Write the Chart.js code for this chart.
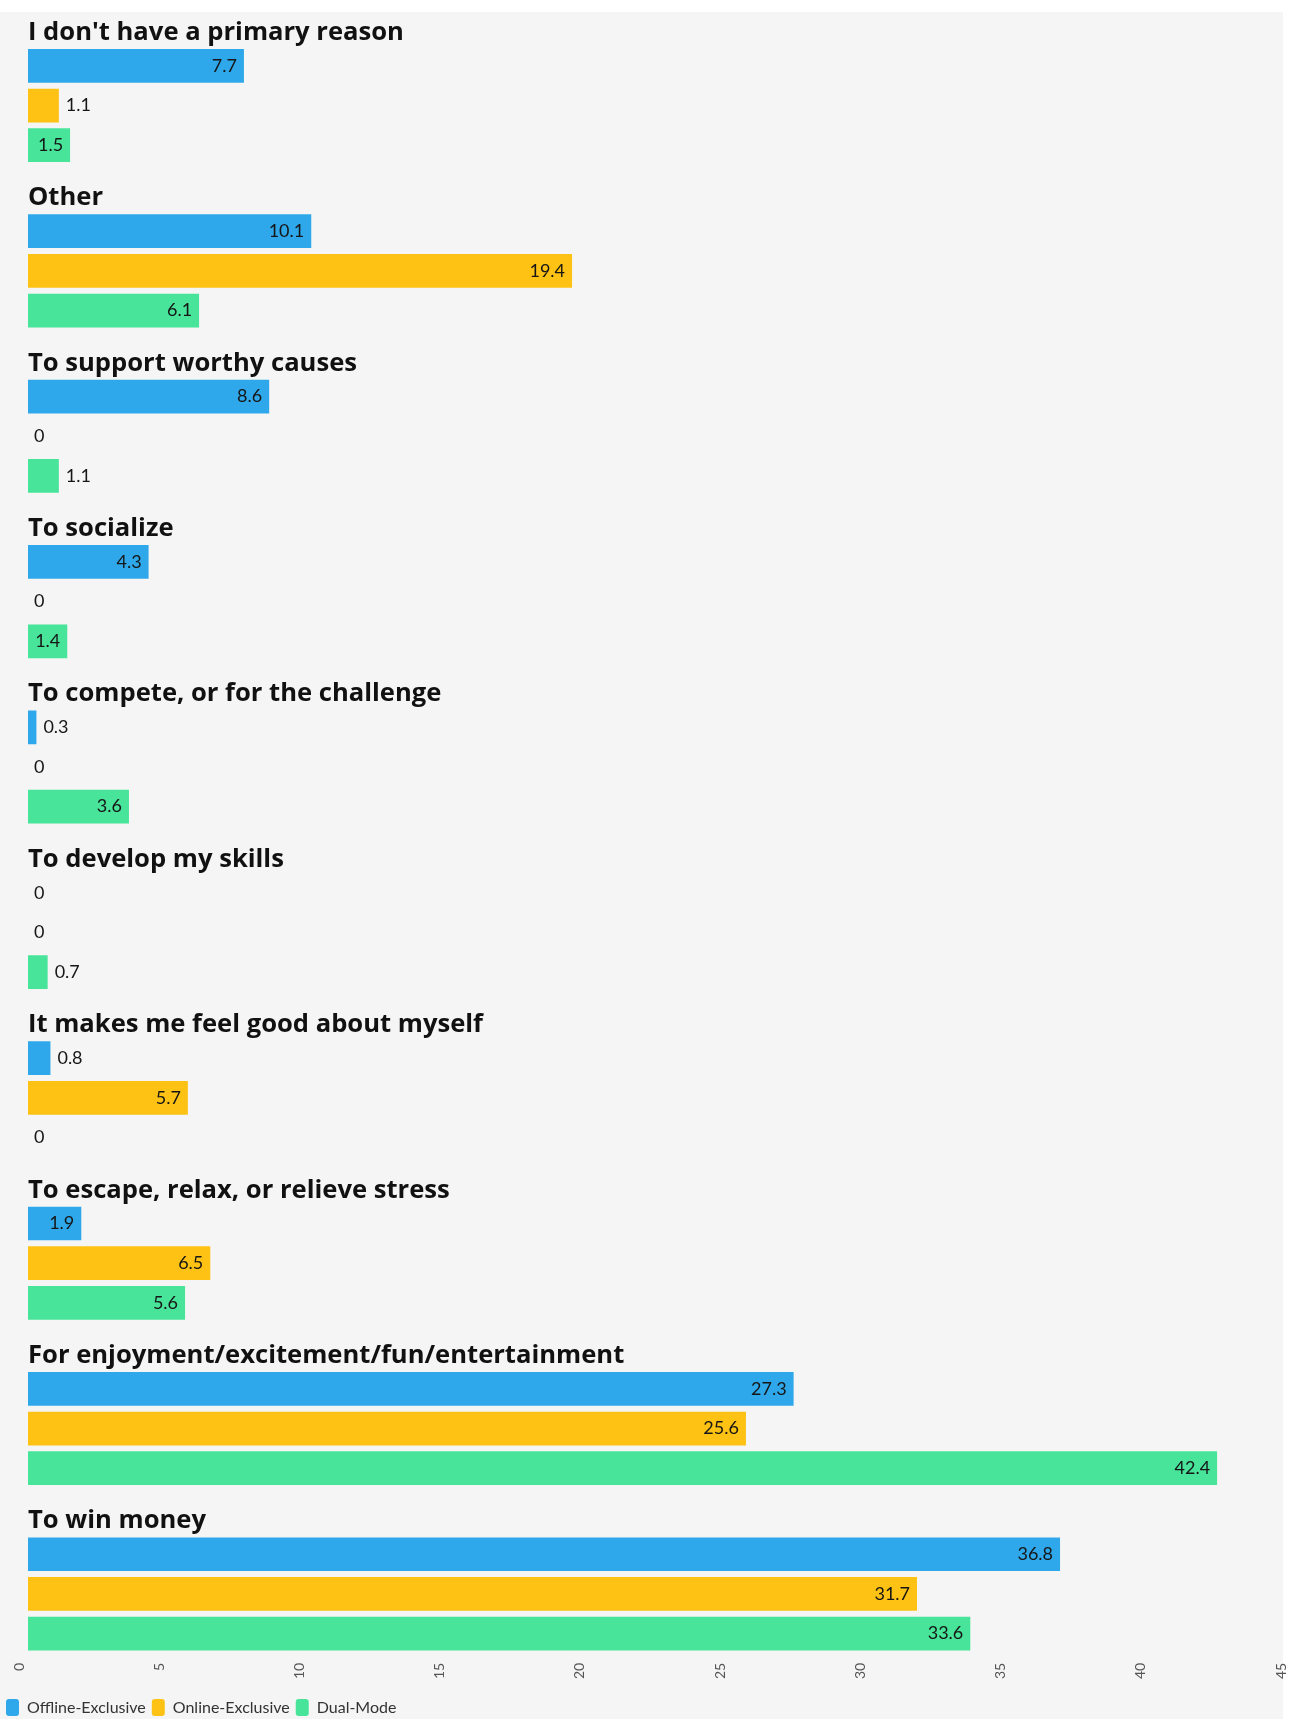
<!DOCTYPE html>
<html>
<head>
<meta charset="utf-8">
<script src="https://cdn.jsdelivr.net/npm/chart.js@4.4.1/dist/chart.umd.min.js"></script>
<style>
	html, body { margin: 0; padding: 0; background: #fff; overflow: hidden; }
	#panel { position: absolute; left: 0; top: 12px; width: 1283px; height: 1707px; background: #f5f5f5; }
	#wrap { position: absolute; left: 0; top: 0; width: 1294px; height: 1719px; }
</style>
</head>
<body>
<div id="panel"></div>
<div id="wrap"><canvas id="reasons-chart"></canvas></div>
<script>
; (function() {

	const categories = [
		"I don't have a primary reason",
		'Other',
		'To support worthy causes',
		'To socialize',
		'To compete, or for the challenge',
		'To develop my skills',
		'It makes me feel good about myself',
		'To escape, relax, or relieve stress',
		'For enjoyment/excitement/fun/entertainment',
		'To win money',
	]
	const offlineExclusive = [7.7, 10.1, 8.6, 4.3, 0.3, 0, 0.8, 1.9, 27.3, 36.8]
	const onlineExclusive = [1.1, 19.4, 0, 0, 0, 0, 5.7, 6.5, 25.6, 31.7]
	const dualMode = [1.5, 6.1, 1.1, 1.4, 3.6, 0.7, 0, 5.6, 42.4, 33.6]
	// empty slot above each group, leaves room for the category title
	const titleSlot = categories.map(() => null)

	const xMin = 0
	const xMax = 45
	const xStep = 5

	const font = 'Lato, "Open Sans", sans-serif'
	const titleFont = '"Open Sans", sans-serif'

	// value labels: inside the bar end when there is room, else just after it
	const valueLabels = {
		id: 'valueLabels',
		afterDatasetsDraw(chart) {
			const ctx = chart.ctx
			ctx.save()
			ctx.font = '18px ' + font
			ctx.fillStyle = '#161616'
			ctx.textBaseline = 'middle'
			chart.data.datasets.forEach((ds, di) => {
				if (di === 0) return
				const meta = chart.getDatasetMeta(di)
				meta.data.forEach((bar, i) => {
					const v = ds.data[i]
					const text = String(v)
					const w = ctx.measureText(text).width
					const pad = 7
					const len = bar.x - bar.base
					if (len >= w + pad * 2) {
						ctx.textAlign = 'right'
						ctx.fillText(text, bar.x - pad, bar.y)
					} else {
						ctx.textAlign = 'left'
						ctx.fillText(text, bar.x + (v === 0 ? 6 : pad), bar.y)
					}
				})
			})
			ctx.restore()
		}
	}

	const config = {
		type: 'bar',
		data: {
			labels: categories,
			datasets: [
				{ label: '', data: titleSlot, backgroundColor: 'rgba(0,0,0,0)' },
				{ label: 'Offline-Exclusive', data: offlineExclusive, backgroundColor: '#2ea8ea', borderWidth: 0 },
				{ label: 'Online-Exclusive', data: onlineExclusive, backgroundColor: '#fdc214', borderWidth: 0 },
				{ label: 'Dual-Mode', data: dualMode, backgroundColor: '#47e49a', borderWidth: 0 },
			],
		},
		options: {
			indexAxis: 'y',
			responsive: true,
			maintainAspectRatio: false,
			animation: false,
			categoryPercentage: 0.959,
			barPercentage: 0.851,
			layout: { padding: { top: 3, right: 4, bottom: -7, left: 0 } },
			scales: {
				x: {
					min: xMin,
					max: xMax,
					grid: { display: false, drawTicks: false },
					border: { display: false },
					afterFit: s => {
						s.paddingLeft = 0
						s.paddingRight = 0
						s.height += 8
					},
					ticks: {
						stepSize: xStep,
						minRotation: 90,
						maxRotation: 90,
						padding: 6,
						labelOffset: -9,
						color: '#555',
						font: { family: font, size: 14 },
					},
				},
				y: {
					grid: { display: false, drawTicks: false },
					border: { display: false },
					afterFit: s => {
						s.width = 28
						s.paddingTop = 0
						s.paddingBottom = 0
					},
					ticks: {
						mirror: true,
						padding: 0,
						autoSkip: false,
						labelOffset: -53,
						color: '#111',
						font: { family: titleFont, size: 25.6, weight: 'bold' },
					},
				},
			},
			plugins: {
				legend: {
					position: 'bottom',
					align: 'start',
					labels: {
						filter: item => item.datasetIndex > 0,
						boxWidth: 13,
						boxHeight: 17,
						useBorderRadius: true,
						borderRadius: 3,
						padding: 6,
						color: '#333',
						font: { family: font, size: 16 },
					},
				},
				tooltip: { enabled: false },
			},
		},
		plugins: [valueLabels],
	}

	const ctx = document.getElementById('reasons-chart')
	let chart = new Chart(ctx, config)
})()
</script>
</body>
</html>
